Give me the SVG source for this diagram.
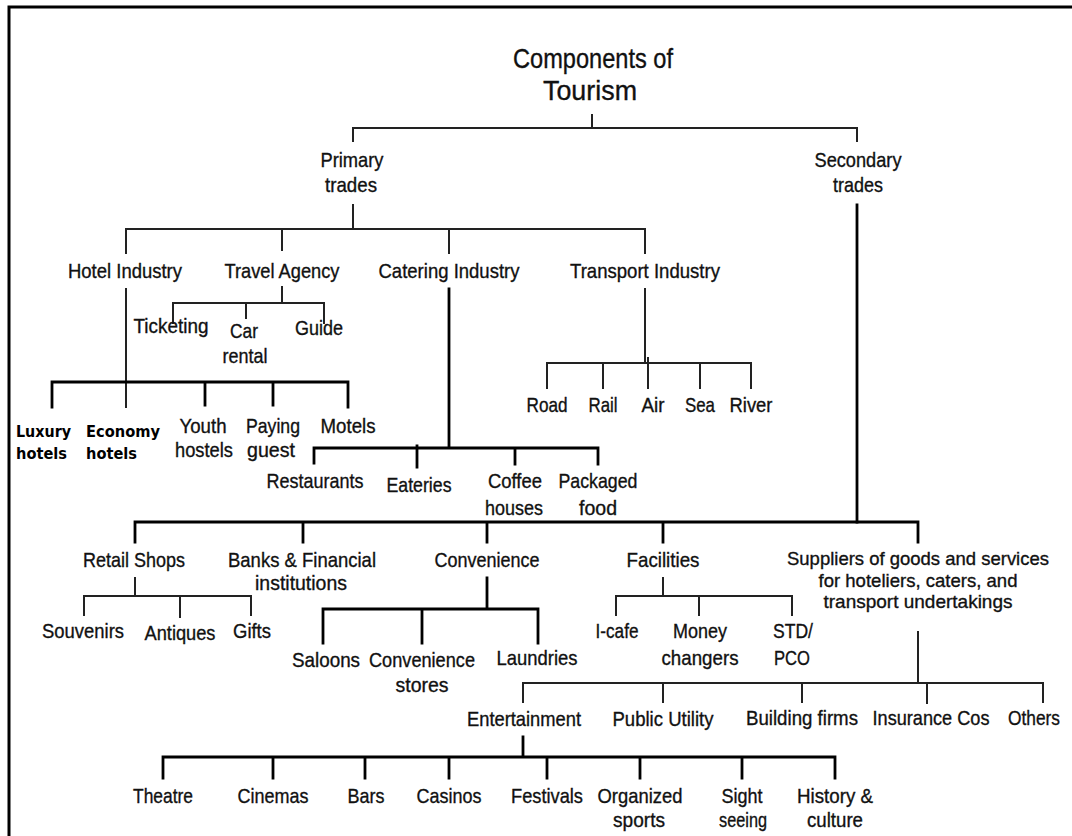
<svg xmlns="http://www.w3.org/2000/svg" width="1072" height="836" viewBox="0 0 1072 836">
  <style>
    .t { font-family: "Liberation Sans Narrow", "Liberation Sans", Arial, sans-serif; font-size: 21px; fill: #111; stroke: #111; stroke-width: 0.35; text-anchor: middle; }
    .ttl { font-size: 28px; }
    .sm { font-size: 19px; }
    .l { text-anchor: start; }
    .b { font-family: "DejaVu Sans", Verdana, sans-serif; font-weight: bold; font-size: 16px; fill: #000; text-anchor: start; }
    .c { fill: none; stroke: #222; stroke-width: 2; stroke-linecap: square; }
    .ck { fill: none; stroke: #000; stroke-width: 2.8; stroke-linecap: square; }
    .frame { fill: none; stroke: #000; stroke-width: 3; }
  </style>
  <rect width="1072" height="836" fill="#fff"/>
  <path class="frame" d="M9,836 V7 H1072"/>

  <g id="connectors">
    <path class="c" d="M592,115 V128 M353,128 H857 M353,128 V141 M857,128 V141"/>
    <path class="c" d="M353,205 V229 M126,229 H645 M126,229 V253 M282,229 V250 M449,229 V253 M645,229 V253"/>
    <path class="ck" d="M857,205 V522"/>
    <path class="c" d="M126,289 V407"/>
    <path class="ck" d="M52,382 H348 M52,382 V407 M205,382 V405 M273,382 V405 M348,382 V407"/>
    <path class="c" d="M282,287 V303 M173,303 H324 M173,303 V323 M246,303 V318 M324,303 V323"/>
    <path class="ck" d="M449,289 V448 M314,448 H598 M314,448 V463 M417,446 V467 M515,448 V464 M598,448 V464"/>
    <path class="c" d="M645,289 V363 M547,363 H751 M547,363 V388 M603,363 V388 M648,358 V388 M700,363 V388 M751,363 V388"/>
    <path class="ck" d="M135,522 H918 M135,522 V542 M303,522 V542 M487,522 V542 M663,522 V542 M918,522 V542"/>
    <path class="c" d="M135,578 V596 M84,596 H251 M84,596 V615 M180,596 V617 M251,596 V615"/>
    <path class="ck" d="M487,578 V609 M323,609 H538 M323,609 V643 M422,609 V643 M538,609 V643"/>
    <path class="c" d="M663,578 V596 M616,596 H792 M616,596 V615 M699,596 V615 M792,596 V615"/>
    <path class="c" d="M918,632 V683 M523,683 H1043 M523,683 V702 M663,683 V702 M802,683 V702 M927,683 V703 M1043,683 V702"/>
    <path class="ck" d="M523,737 V757 M163,757 H835 M163,757 V778 M273,757 V778 M365,757 V778 M449,757 V778 M547,757 V778 M640,757 V778 M742,757 V778 M835,757 V778"/>
  </g>

  <g id="n-title">
    <text class="t ttl" x="593" y="68" textLength="160" lengthAdjust="spacingAndGlyphs">Components of</text>
    <text class="t ttl" x="590" y="100" textLength="94" lengthAdjust="spacingAndGlyphs">Tourism</text>
  </g>
  <g id="n-primary">
    <text class="t" x="352" y="167" textLength="63" lengthAdjust="spacingAndGlyphs">Primary</text>
    <text class="t" x="351" y="192" textLength="52" lengthAdjust="spacingAndGlyphs">trades</text>
  </g>
  <g id="n-secondary">
    <text class="t" x="858" y="167" textLength="87" lengthAdjust="spacingAndGlyphs">Secondary</text>
    <text class="t" x="858" y="192" textLength="50" lengthAdjust="spacingAndGlyphs">trades</text>
  </g>

  <g id="n-hotel"><text class="t" x="125" y="278" textLength="114" lengthAdjust="spacingAndGlyphs">Hotel Industry</text></g>
  <g id="n-travel"><text class="t" x="282" y="278" textLength="115" lengthAdjust="spacingAndGlyphs">Travel Agency</text></g>
  <g id="n-catering"><text class="t" x="449" y="278" textLength="141" lengthAdjust="spacingAndGlyphs">Catering Industry</text></g>
  <g id="n-transport"><text class="t" x="645" y="278" textLength="150" lengthAdjust="spacingAndGlyphs">Transport Industry</text></g>

  <g id="n-ticketing"><text class="t" x="171" y="333" textLength="75" lengthAdjust="spacingAndGlyphs">Ticketing</text></g>
  <g id="n-car-rental">
    <text class="t" x="244" y="338" textLength="28" lengthAdjust="spacingAndGlyphs">Car</text>
    <text class="t" x="245" y="363" textLength="45" lengthAdjust="spacingAndGlyphs">rental</text>
  </g>
  <g id="n-guide"><text class="t" x="319" y="335" textLength="48" lengthAdjust="spacingAndGlyphs">Guide</text></g>

  <g id="n-luxury">
    <text class="b" x="16" y="437" textLength="55" lengthAdjust="spacingAndGlyphs">Luxury</text>
    <text class="b" x="16" y="459" textLength="51" lengthAdjust="spacingAndGlyphs">hotels</text>
  </g>
  <g id="n-economy">
    <text class="b" x="86" y="437" textLength="74" lengthAdjust="spacingAndGlyphs">Economy</text>
    <text class="b" x="86" y="459" textLength="51" lengthAdjust="spacingAndGlyphs">hotels</text>
  </g>
  <g id="n-youth">
    <text class="t" x="203" y="433" textLength="47" lengthAdjust="spacingAndGlyphs">Youth</text>
    <text class="t" x="204" y="457" textLength="58" lengthAdjust="spacingAndGlyphs">hostels</text>
  </g>
  <g id="n-paying">
    <text class="t" x="273" y="433" textLength="54" lengthAdjust="spacingAndGlyphs">Paying</text>
    <text class="t" x="271" y="457" textLength="48" lengthAdjust="spacingAndGlyphs">guest</text>
  </g>
  <g id="n-motels"><text class="t" x="348" y="433" textLength="55" lengthAdjust="spacingAndGlyphs">Motels</text></g>

  <g id="n-restaurants"><text class="t" x="315" y="488" textLength="97" lengthAdjust="spacingAndGlyphs">Restaurants</text></g>
  <g id="n-eateries"><text class="t" x="419" y="492" textLength="65" lengthAdjust="spacingAndGlyphs">Eateries</text></g>
  <g id="n-coffee">
    <text class="t" x="515" y="488" textLength="54" lengthAdjust="spacingAndGlyphs">Coffee</text>
    <text class="t" x="514" y="515" textLength="58" lengthAdjust="spacingAndGlyphs">houses</text>
  </g>
  <g id="n-packaged">
    <text class="t" x="598" y="488" textLength="79" lengthAdjust="spacingAndGlyphs">Packaged</text>
    <text class="t" x="598" y="515" textLength="38" lengthAdjust="spacingAndGlyphs">food</text>
  </g>

  <g id="n-road"><text class="t" x="547" y="412" textLength="41" lengthAdjust="spacingAndGlyphs">Road</text></g>
  <g id="n-rail"><text class="t" x="603" y="412" textLength="29" lengthAdjust="spacingAndGlyphs">Rail</text></g>
  <g id="n-air"><text class="t" x="653" y="412" textLength="23" lengthAdjust="spacingAndGlyphs">Air</text></g>
  <g id="n-sea"><text class="t" x="700" y="412" textLength="30" lengthAdjust="spacingAndGlyphs">Sea</text></g>
  <g id="n-river"><text class="t" x="751" y="412" textLength="43" lengthAdjust="spacingAndGlyphs">River</text></g>

  <g id="n-retail"><text class="t" x="134" y="567" textLength="102" lengthAdjust="spacingAndGlyphs">Retail Shops</text></g>
  <g id="n-banks">
    <text class="t" x="302" y="567" textLength="148" lengthAdjust="spacingAndGlyphs">Banks &amp; Financial</text>
    <text class="t" x="301" y="590" textLength="92" lengthAdjust="spacingAndGlyphs">institutions</text>
  </g>
  <g id="n-convenience"><text class="t" x="487" y="567" textLength="105" lengthAdjust="spacingAndGlyphs">Convenience</text></g>
  <g id="n-facilities"><text class="t" x="663" y="567" textLength="73" lengthAdjust="spacingAndGlyphs">Facilities</text></g>
  <g id="n-suppliers">
    <text class="t sm" x="918" y="565" textLength="262" lengthAdjust="spacingAndGlyphs">Suppliers of goods and services</text>
    <text class="t sm" x="918" y="587" textLength="199" lengthAdjust="spacingAndGlyphs">for hoteliers, caters, and</text>
    <text class="t sm" x="918" y="608" textLength="189" lengthAdjust="spacingAndGlyphs">transport undertakings</text>
  </g>

  <g id="n-souvenirs"><text class="t" x="83" y="638" textLength="82" lengthAdjust="spacingAndGlyphs">Souvenirs</text></g>
  <g id="n-antiques"><text class="t" x="180" y="640" textLength="71" lengthAdjust="spacingAndGlyphs">Antiques</text></g>
  <g id="n-gifts"><text class="t" x="252" y="638" textLength="38" lengthAdjust="spacingAndGlyphs">Gifts</text></g>

  <g id="n-saloons"><text class="t" x="326" y="667" textLength="68" lengthAdjust="spacingAndGlyphs">Saloons</text></g>
  <g id="n-conv-stores">
    <text class="t" x="422" y="667" textLength="106" lengthAdjust="spacingAndGlyphs">Convenience</text>
    <text class="t" x="422" y="692" textLength="53" lengthAdjust="spacingAndGlyphs">stores</text>
  </g>
  <g id="n-laundries"><text class="t" x="537" y="665" textLength="81" lengthAdjust="spacingAndGlyphs">Laundries</text></g>

  <g id="n-icafe"><text class="t" x="617" y="638" textLength="43" lengthAdjust="spacingAndGlyphs">I-cafe</text></g>
  <g id="n-money">
    <text class="t" x="700" y="638" textLength="54" lengthAdjust="spacingAndGlyphs">Money</text>
    <text class="t" x="700" y="665" textLength="77" lengthAdjust="spacingAndGlyphs">changers</text>
  </g>
  <g id="n-std">
    <text class="t l" x="773" y="638" textLength="40" lengthAdjust="spacingAndGlyphs">STD/</text>
    <text class="t l" x="774" y="665" textLength="36" lengthAdjust="spacingAndGlyphs">PCO</text>
  </g>

  <g id="n-entertainment"><text class="t" x="524" y="726" textLength="114" lengthAdjust="spacingAndGlyphs">Entertainment</text></g>
  <g id="n-public"><text class="t" x="663" y="726" textLength="101" lengthAdjust="spacingAndGlyphs">Public Utility</text></g>
  <g id="n-building"><text class="t" x="802" y="725" textLength="112" lengthAdjust="spacingAndGlyphs">Building firms</text></g>
  <g id="n-insurance"><text class="t" x="931" y="725" textLength="117" lengthAdjust="spacingAndGlyphs">Insurance Cos</text></g>
  <g id="n-others"><text class="t" x="1034" y="725" textLength="52" lengthAdjust="spacingAndGlyphs">Others</text></g>

  <g id="n-theatre"><text class="t" x="163" y="803" textLength="60" lengthAdjust="spacingAndGlyphs">Theatre</text></g>
  <g id="n-cinemas"><text class="t" x="273" y="803" textLength="71" lengthAdjust="spacingAndGlyphs">Cinemas</text></g>
  <g id="n-bars"><text class="t" x="366" y="803" textLength="37" lengthAdjust="spacingAndGlyphs">Bars</text></g>
  <g id="n-casinos"><text class="t" x="449" y="803" textLength="65" lengthAdjust="spacingAndGlyphs">Casinos</text></g>
  <g id="n-festivals"><text class="t" x="547" y="803" textLength="72" lengthAdjust="spacingAndGlyphs">Festivals</text></g>
  <g id="n-sports">
    <text class="t" x="640" y="803" textLength="85" lengthAdjust="spacingAndGlyphs">Organized</text>
    <text class="t" x="639" y="827" textLength="52" lengthAdjust="spacingAndGlyphs">sports</text>
  </g>
  <g id="n-sight">
    <text class="t" x="742" y="803" textLength="41" lengthAdjust="spacingAndGlyphs">Sight</text>
    <text class="t" x="743" y="827" textLength="48" lengthAdjust="spacingAndGlyphs">seeing</text>
  </g>
  <g id="n-history">
    <text class="t" x="835" y="803" textLength="76" lengthAdjust="spacingAndGlyphs">History &amp;</text>
    <text class="t" x="835" y="827" textLength="56" lengthAdjust="spacingAndGlyphs">culture</text>
  </g>
</svg>
